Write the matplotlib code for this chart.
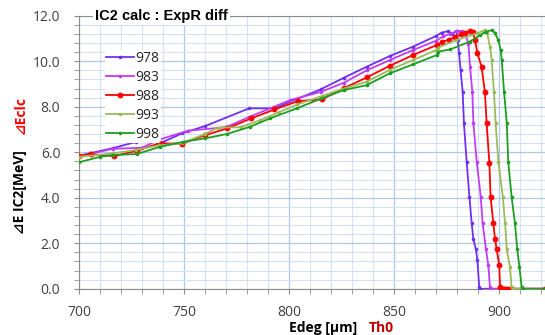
import numpy as np
import matplotlib
matplotlib.use("Agg")
import matplotlib.pyplot as plt
from matplotlib.ticker import MultipleLocator

# dati: Edeg [um] -> dE IC2 [MeV]
x_978 = [700, 705, 716, 727, 740, 749, 760, 781, 793, 804, 815, 826, 837, 848, 859, 870,
         872.7, 875.8, 877.8, 879.7, 880.3, 881, 881.7, 882.7, 883.3, 884.6, 885.9, 887,
         887.8, 889, 889.7, 890.6, 891, 922]
y_978 = [5.85, 5.95, 6.18, 6.45, 6.45, 6.83, 7.15, 7.93, 7.93, 8.35, 8.76, 9.27, 9.76, 10.23, 10.64, 11.11,
         11.26, 11.32, 11.2, 11.33, 10.93, 10.35, 9.6, 8.66, 7.27, 5.58, 4.04, 2.87,
         2.17, 1.73, 1.26, 0.06, 0, 0]

x_983 = [700, 716, 730, 738, 752, 770, 781, 800.5, 815, 826, 837, 848, 859, 870, 873.5,
         876.7, 880, 882.5, 884, 885.4, 886.2, 887.3, 887.8, 889.4, 891.3, 892.2, 893.8,
         894.9, 895.7, 896, 922]
y_983 = [5.82, 6.15, 6.2, 6.55, 6.95, 7.1, 7.55, 8.29, 8.65, 9.05, 9.6, 10.05, 10.49, 10.9, 11.1,
         11.2, 11.33, 11.33, 11.2, 10.78, 9.76, 8.66, 7.27, 5.58, 4.04, 2.87, 1.73,
         1.04, 0.06, 0, 0]

x_988 = [700, 705.6, 716.7, 727.8, 738, 749, 760, 770.6, 782, 793, 804.4, 815.6, 826, 837,
         848, 859, 870.3, 873, 876, 879, 882, 884, 886.2, 887.5, 888.6, 889.7, 891.7, 893.3,
         894.1, 895.4, 896, 897.3, 898.1, 898.9, 900.1, 900.5, 901, 902, 903, 904, 905, 906, 922]
y_988 = [5.85, 5.92, 5.83, 6.07, 6.39, 6.38, 6.75, 7.05, 7.49, 7.88, 8.25, 8.32, 8.81, 9.29,
         9.8, 10.27, 10.71, 10.85, 10.95, 11.05, 11.2, 11.25, 11.34, 11.3, 10.93, 10.35, 9.76, 8.63,
         7.27, 5.54, 4.02, 2.87, 2.17, 1.73, 1.04, 0.06, 0, 0, 0, 0, 0, 0, 0]

x_993 = [700, 716, 727, 738, 749, 760, 766, 777, 786, 795, 804, 815, 826, 837, 848, 859,
         870, 871, 879.7, 889.3, 892.5, 893.3, 894.4, 895.7, 896.5, 897.6, 898.4, 899.7,
         901.8, 902.9, 903.7, 905.2, 906, 906.5, 922]
y_993 = [5.8, 5.95, 6.1, 6.3, 6.4, 6.8, 7.08, 7.1, 7.4, 7.75, 8.1, 8.45, 8.8, 9.1, 9.62, 10.05,
         10.49, 10.6, 10.93, 11.22, 11.34, 11.37, 11.22, 10.64, 10.05, 8.66, 7.27, 5.58,
         4.04, 2.87, 1.73, 0.97, 0.06, 0, 0]

x_998 = [700, 710, 716, 727.5, 738.6, 749.7, 760, 770.3, 781.4, 791, 803.7, 815.6, 826, 837,
         848, 859, 870.3, 871, 876.7, 886, 891, 894, 896.5, 898, 899.7, 900.8, 901.3, 902.4,
         903.7, 904.4, 906, 907.6, 908.7, 909.7, 910.8, 911.3, 922]
y_998 = [5.56, 5.8, 5.88, 5.92, 6.24, 6.46, 6.61, 6.8, 7.12, 7.49, 7.93, 8.37, 8.73, 8.95,
         9.47, 9.86, 10.27, 10.42, 10.52, 10.86, 11.15, 11.3, 11.37, 11.25, 10.93, 10.49, 10.05, 8.66,
         7.27, 5.58, 4.04, 2.87, 1.73, 0.97, 0.06, 0, 0]

serie = [("978", x_978, y_978, "#7030F0", 1.6),
         ("983", x_983, y_983, "#C03CF5", 1.6),
         ("988", x_988, y_988, "#FF0000", 3.2),
         ("993", x_993, y_993, "#9BBB59", 1.6),
         ("998", x_998, y_998, "#1E9E1E", 1.6)]

plt.rcParams['font.family'] = ['Open Sans', 'DejaVu Sans']

fig = plt.figure(figsize=(5.45, 3.35), dpi=100)
ax = fig.add_axes([0.145, 0.138, 0.855, 0.815])

for nome, xs, ys, col, ms in serie:
    ax.plot(xs, ys, color=col, lw=1.3, marker="o", ms=ms, mec=col, label=nome, zorder=3)

ax.set_xlim(700, 921.9)
ax.set_ylim(0, 12)
ax.xaxis.set_major_locator(MultipleLocator(50))
ax.xaxis.set_minor_locator(MultipleLocator(10))
ax.yaxis.set_major_locator(MultipleLocator(2))
ax.yaxis.set_minor_locator(MultipleLocator(0.4))
ax.yaxis.set_major_formatter(matplotlib.ticker.FormatStrFormatter("%.1f"))

ax.grid(which="major", color="#AFC7EA", lw=0.9, zorder=0)
ax.grid(which="minor", color="#D3E1F3", lw=0.8, zorder=0)
ax.set_axisbelow(True)

for s in ["left", "bottom", "top"]:
    ax.spines[s].set_color("#8C8C8C")
ax.spines["right"].set_visible(False)
ax.tick_params(which="both", direction="out", color="#8C8C8C", labelcolor="#404040", labelsize=10)
ax.tick_params(axis="y", which="both", length=3.5, pad=10)
ax.tick_params(axis="x", which="both", length=3.5, pad=8)

# titolo dentro il grafico, sopra la linea superiore
ax.text(0.034, 1.0, "IC2 calc : ExpR diff", transform=ax.transAxes, ha="left", va="center",
        fontsize=10.5, fontweight="bold", family="Liberation Sans",
        bbox=dict(facecolor="white", edgecolor="none", pad=1.5), zorder=5)

leg = ax.legend(loc="upper left", bbox_to_anchor=(0.055, 0.875), fontsize=10,
                frameon=True, facecolor="white", edgecolor="none", framealpha=1,
                handlelength=2.0, handletextpad=0.1, labelspacing=0.28, borderpad=0.1,
                borderaxespad=0)
for t in leg.get_texts():
    t.set_color("#262626")

# etichette degli assi
fig.text(0.037, 0.427, "⊿E IC2[MeV]", rotation=90, ha="center", va="center",
         fontsize=10, fontweight="bold")
fig.text(0.037, 0.657, "⊿Eclc", rotation=90, ha="center", va="center",
         fontsize=10, fontweight="bold", color="#FF0000")
fig.text(0.593, 0.021, "Edeg [µm]", ha="center", va="center", fontsize=10, fontweight="bold")
fig.text(0.699, 0.021, "Th0", ha="center", va="center", fontsize=10, fontweight="bold",
         color="#C00000")

fig.savefig("out.png", dpi=100)
